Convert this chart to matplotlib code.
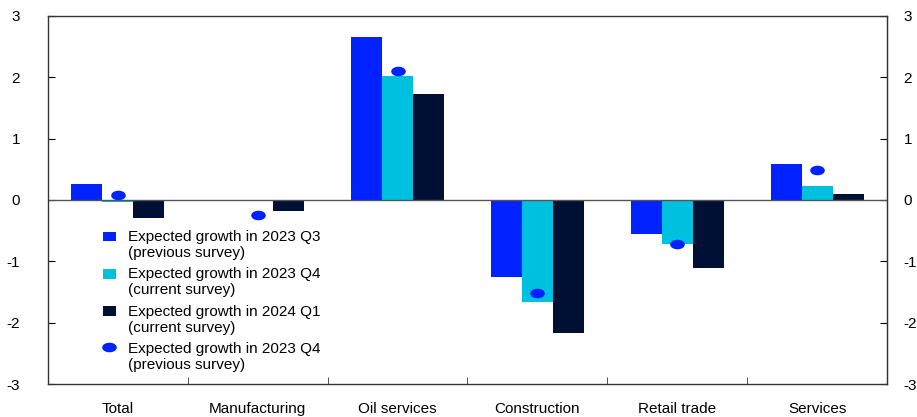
import numpy as np
import matplotlib.pyplot as plt
from matplotlib.path import Path
from matplotlib.transforms import Affine2D
from matplotlib.legend_handler import HandlerPatch, HandlerLine2D

plt.rcParams['font.family'] = ['Liberation Sans', 'DejaVu Sans']
plt.rcParams['axes.unicode_minus'] = False

categories = ['Total', 'Manufacturing', 'Oil services', 'Construction', 'Retail trade', 'Services']
q3_prev = [0.26, -0.01, 2.66, -1.26, -0.55, 0.58]
q4_curr = [-0.04, -0.01, 2.02, -1.66, -0.71, 0.23]
q1_curr = [-0.29, -0.18, 1.73, -2.16, -1.11, 0.09]
q4_prev = [0.08, -0.24, 2.10, -1.51, -0.71, 0.49]

labels = ['Expected growth in 2023 Q3\n(previous survey)',
          'Expected growth in 2023 Q4\n(current survey)',
          'Expected growth in 2024 Q1\n(current survey)',
          'Expected growth in 2023 Q4\n(previous survey)']
colors = ['#0022ff', '#00c0e0', '#001035']
FS = 11


# legend handles sit next to the first line of the two-line labels
class UpPatch(HandlerPatch):
    def create_artists(self, legend, orig_handle, xdescent, ydescent, width, height, fontsize, trans):
        return super().create_artists(legend, orig_handle, xdescent, ydescent - 0.55 * fontsize,
                                      width, height, fontsize, trans)


class UpLine(HandlerLine2D):
    def create_artists(self, legend, orig_handle, xdescent, ydescent, width, height, fontsize, trans):
        return super().create_artists(legend, orig_handle, xdescent, ydescent - 1.3 * fontsize,
                                      width, height, fontsize, trans)


# flattened ellipse marker for the dots
ellipse = Path.unit_circle().transformed(Affine2D().scale(1.0, 0.62))

fig = plt.figure(figsize=(9.17, 4.17), dpi=100)
ax = fig.add_axes([0.0523, 0.079, 0.915, 0.883])

x = np.arange(len(categories))
w = 0.222
handles = []
for i, vals in enumerate([q3_prev, q4_curr, q1_curr]):
    b = ax.bar(x + (i - 1) * w, vals, w, color=colors[i], label=labels[i])
    handles.append(b.patches[0])
dots, = ax.plot(x, q4_prev, linestyle='none', marker=ellipse, markersize=9.5,
                color='#0022ff', label=labels[3])
handles.append(dots)

ax.axhline(0, color='#555555', lw=1)
ax.set_xlim(-0.5, len(categories) - 0.5)
ax.set_ylim(-3, 3)
ax.set_yticks([-3, -2, -1, 0, 1, 2, 3])

ax.set_xticks(x)
ax.set_xticklabels(categories, fontsize=FS)
ax.tick_params(axis='x', which='major', length=0, pad=13)
ax.set_xticks(np.arange(0.5, len(categories) - 0.5, 1), minor=True)
ax.tick_params(axis='x', which='minor', direction='in', length=5, color='#333333')

ax.tick_params(axis='y', direction='in', length=5, labelsize=FS, pad=20)
ax2 = ax.secondary_yaxis('right')
ax2.set_yticks([-3, -2, -1, 0, 1, 2, 3])
ax2.tick_params(direction='in', length=5, labelsize=FS, pad=12)

for s in ax.spines.values():
    s.set_color('#333333')
    s.set_linewidth(1)
ax2.spines['right'].set_color('#333333')

hmap = {h: UpPatch() for h in handles[:3]}
hmap[dots] = UpLine()
ax.legend(handles=handles, labels=labels, handler_map=hmap, loc='upper left',
          bbox_to_anchor=(0.0656, 0.419), frameon=False, fontsize=FS,
          handlelength=0.85, handleheight=0.6, handletextpad=0.8,
          labelspacing=0.47, borderaxespad=0, borderpad=0)

fig.savefig('out.png', dpi=100)
